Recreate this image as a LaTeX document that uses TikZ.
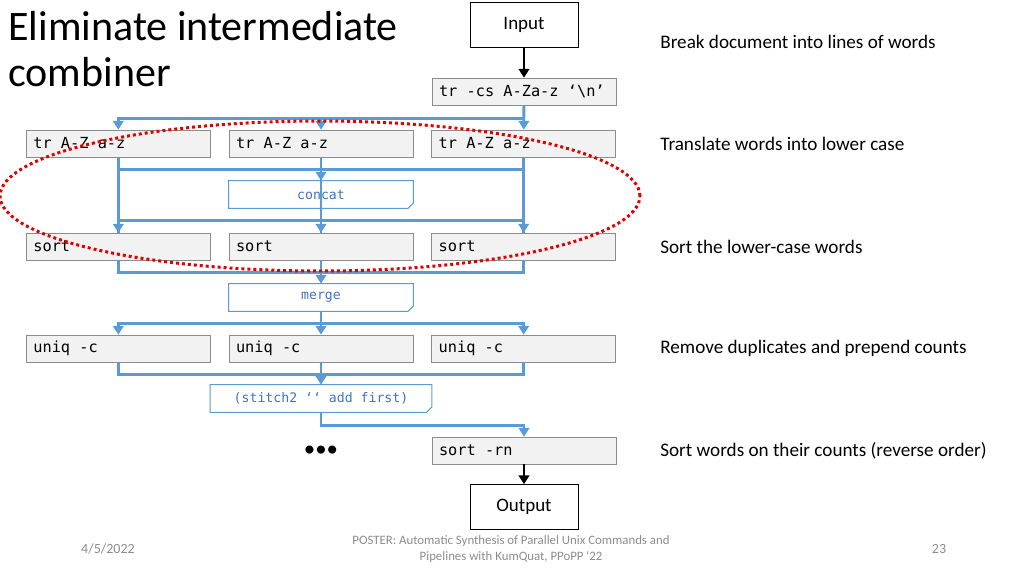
\documentclass[tikz,border=0pt]{standalone}
\usepackage{fontspec}
\setmainfont{Carlito}
\setmonofont{DejaVu Sans Mono}
\usetikzlibrary{positioning,arrows.meta,calc}
\definecolor{flowblue}{HTML}{5B9BD5}
\definecolor{optext}{HTML}{4472C4}
\definecolor{boxgray}{HTML}{F2F2F2}
\definecolor{footgray}{HTML}{8C8C8C}
\definecolor{lassored}{HTML}{E00000}
\newcommand{\foldedbox}[1]{\draw[flowblue,line width=0.6pt] (#1.north west) -- (#1.north east) -- ([yshift=3pt]#1.south east) -- ([xshift=-3pt]#1.south east) -- (#1.south west) -- cycle;}

\begin{document}
\begin{tikzpicture}[x=0.02cm, y=-0.02cm, node distance=0.5cm and 0.36cm,
  cmd/.style={rectangle, draw=black!45, fill=boxgray, text width=3.4cm, inner xsep=0.14cm, minimum height=0.54cm, align=flush left, font=\ttfamily\fontsize{8.7}{10}\selectfont},
  op/.style={rectangle, fill=white, minimum width=3.68cm, minimum height=0.54cm, text=optext, font=\ttfamily\fontsize{7.5}{9}\selectfont},
  io/.style={rectangle, draw, minimum width=2.16cm, minimum height=0.9cm, font=\fontsize{10.8}{12}\selectfont},
  flow/.style={draw=flowblue, line width=1.6pt, -{Triangle[width=6pt,length=5pt]}},
  flowline/.style={draw=flowblue, line width=1.6pt},
  io arrow/.style={draw=black, line width=1.4pt, -{Triangle[width=6pt,length=5pt]}},
  note/.style={anchor=west, inner sep=0pt, font=\fontsize{10.9}{12}\selectfont},
  foot/.style={text=footgray, font=\fontsize{7.3}{9.2}\selectfont}]
  \useasboundingbox (0,0) rectangle (1024,576);

  % title
  \node[anchor=base west, inner sep=0pt, font=\fontsize{23.9}{28}\selectfont] (title1) at (8,40) {Eliminate intermediate};
  \node[anchor=base west, inner sep=0pt, font=\fontsize{23.9}{28}\selectfont] (title2) at (8,86) {combiner};

  % pipeline
  \node[io] (input) at (524,24.5) {Input};
  \node[cmd] (trcs) at (524,91.5) {tr -cs A-Za-z ‘\textbackslash n’};

  \node[cmd] (tr2) at (321,143.5) {tr A-Z a-z};
  \node[cmd, left=of tr2] (tr1) {tr A-Z a-z};
  \node[cmd, right=of tr2] (tr3) {tr A-Z a-z};

  \node[op] (concat) at (321,194.5) {concat};

  \node[cmd] (sort2) at (321,246.5) {sort};
  \node[cmd, left=of sort2] (sort1) {sort};
  \node[cmd, right=of sort2] (sort3) {sort};

  \node[op] (merge) at (321,297.5) {merge};

  \node[cmd] (uniq2) at (321,348.5) {uniq -c};
  \node[cmd, left=of uniq2] (uniq1) {uniq -c};
  \node[cmd, right=of uniq2] (uniq3) {uniq -c};

  \node[op, minimum width=4.42cm] (stitch) at (321,398.5) {(stitch2 ‘‘ add first)};

  \node[font=\fontsize{13}{13}\selectfont] (dots) at (321,451) {•••};
  \node[cmd] (sortrn) at (524,450.5) {sort -rn};
  \node[io] (output) at (524,507) {Output};

  \foldedbox{concat}
  \foldedbox{merge}
  \foldedbox{stitch}

  % notes
  \node[note] (n1) at (660,42) {Break document into lines of words};
  \node[note] (n2) at (660,143.5) {Translate words into lower case};
  \node[note] (n3) at (660,246.5) {Sort the lower-case words};
  \node[note] (n4) at (660,348.5) {Remove duplicates and prepend counts};
  \node[note] (n5) at (660,450.5) {Sort words on their counts (reverse order)};

  % connectors
  \draw[io arrow] (input) -- (trcs);
  \draw[flow] (trcs) -- (tr3);
  \draw[flow] (trcs.south) -- ++(0,13) -| (tr2.north);
  \draw[flow] (trcs.south) -- ++(0,13) -| (tr1.north);

  \draw[flowline] (tr1.south) -- ++(0,12) -| (tr3.south);
  \draw[flowline] (tr1) -- (sort1);
  \draw[flowline] (tr3) -- (sort3);
  \draw[flowline] (tr2) -- (sort2);
  \draw[flow] (tr2) -- (concat);
  \draw[flow] (concat.south) -- ++(0,12) -| (sort1.north);
  \draw[flow] (concat.south) -- ++(0,12) -| (sort3.north);
  \draw[flow] (concat) -- (sort2);

  \draw[flowline] (sort1.south) -- ++(0,12) -| (sort3.south);
  \draw[flow] (sort2) -- (merge);
  \draw[flow] (merge.south) -- ++(0,12) -| (uniq1.north);
  \draw[flow] (merge.south) -- ++(0,12) -| (uniq3.north);
  \draw[flow] (merge) -- (uniq2);

  \draw[flowline] (uniq1.south) -- ++(0,12) -| (uniq3.south);
  \draw[flow] (uniq2) -- (stitch);
  \draw[flow] (stitch.south) -- ++(0,13) -| (sortrn.north);
  \draw[io arrow] (sortrn) -- (output);

  % dotted lasso
  \draw[lassored, line width=1.7pt, dash pattern=on 1.7pt off 1.7pt] (320,196) ellipse [x radius=6.4cm, y radius=1.5cm];

  % footer
  \node[foot, font=\fontsize{8}{9}\selectfont] (date) at (108,549) {4/5/2022};
  \node[foot, align=center] (cite) at (511,549) {POSTER: Automatic Synthesis of Parallel Unix Commands and\\Pipelines with KumQuat, PPoPP \textquotesingle22};
  \node[foot, font=\fontsize{8}{9}\selectfont] (page) at (939,549) {23};
\end{tikzpicture}
\end{document}
